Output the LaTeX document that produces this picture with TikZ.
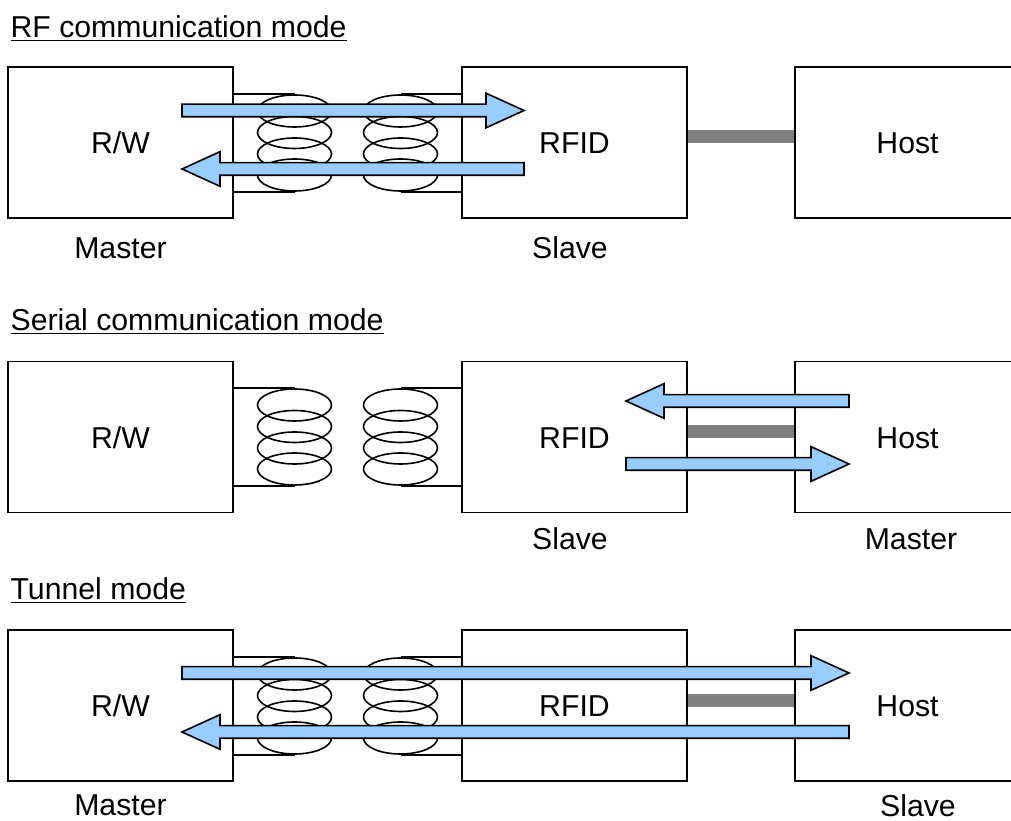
\documentclass[tikz,border=0pt]{standalone}
\usepackage{fontspec}
\setmainfont{Liberation Sans}
\usepackage{xcolor}
\usetikzlibrary{shapes.geometric,shapes.arrows}
\definecolor{arrowblue}{HTML}{99CCFF}
\begin{document}
\begin{tikzpicture}[
		line width=0.026cm,
		font=\fontsize{17.2pt}{20pt}\selectfont,
		unit/.style={draw, minimum width=4.5cm, minimum height=3.02cm, inner sep=0, text height=0.46cm, text depth=0},
		coil/.style={draw, line width=0.032cm, ellipse, minimum width=1.48cm, minimum height=0.64cm, inner sep=0},
		wire/.style={draw, line width=0.032cm},
		bar/.style={draw=gray, line width=0.26cm},
		flowright/.style={draw, line width=0.032cm, fill=arrowblue, single arrow, single arrow head extend=0.22cm, single arrow tip angle=49, inner xsep=0, inner ysep=0.11cm, outer sep=0, anchor=tip},
		flowleft/.style={flowright, shape border rotate=180},
		title/.style={anchor=west, inner sep=0},
		role/.style={inner sep=0}
	]
	\useasboundingbox (0,0) rectangle (20.22,16.42);

	\node[title] (t1) at (0.2,15.85) {\underline{RF communication mode}};
	\node[title] (t2) at (0.2,9.99) {\underline{Serial communication mode}};
	\node[title] (t3) at (0.2,4.61) {\underline{Tunnel mode}};

	\node[unit] (rw1) at (2.41,13.57) {R/W};
	\node[unit] (rfid1) at (11.49,13.57) {RFID};
	\node[unit] (host1) at (18.15,13.57) {Host};
	\node[unit] (rw2) at (2.41,7.68) {R/W};
	\node[unit] (rfid2) at (11.49,7.68) {RFID};
	\node[unit] (host2) at (18.15,7.68) {Host};
	\node[unit] (rw3) at (2.41,2.31) {R/W};
	\node[unit] (rfid3) at (11.49,2.31) {RFID};
	\node[unit] (host3) at (18.15,2.31) {Host};

	\node[coil] (a11) at (5.89,14.2) {};
	\node[coil] (a12) at (5.89,13.77) {};
	\node[coil] (a13) at (5.89,13.34) {};
	\node[coil] (a14) at (5.89,12.92) {};
	\node[coil] (b11) at (8.01,14.2) {};
	\node[coil] (b12) at (8.01,13.77) {};
	\node[coil] (b13) at (8.01,13.34) {};
	\node[coil] (b14) at (8.01,12.92) {};

	\node[coil] (a21) at (5.89,8.32) {};
	\node[coil] (a22) at (5.89,7.89) {};
	\node[coil] (a23) at (5.89,7.46) {};
	\node[coil] (a24) at (5.89,7.04) {};
	\node[coil] (b21) at (8.01,8.32) {};
	\node[coil] (b22) at (8.01,7.89) {};
	\node[coil] (b23) at (8.01,7.46) {};
	\node[coil] (b24) at (8.01,7.04) {};

	\node[coil] (a31) at (5.89,2.94) {};
	\node[coil] (a32) at (5.89,2.51) {};
	\node[coil] (a33) at (5.89,2.08) {};
	\node[coil] (a34) at (5.89,1.66) {};
	\node[coil] (b31) at (8.01,2.94) {};
	\node[coil] (b32) at (8.01,2.51) {};
	\node[coil] (b33) at (8.01,2.08) {};
	\node[coil] (b34) at (8.01,1.66) {};

	\draw[wire] (rw1.east |- a11.north) -- (a11.north);
	\draw[wire] (rw1.east |- a14.south) -- (a14.south);
	\draw[wire] (rfid1.west |- b11.north) -- (b11.north);
	\draw[wire] (rfid1.west |- b14.south) -- (b14.south);
	\draw[wire] (rw2.east |- a21.north) -- (a21.north);
	\draw[wire] (rw2.east |- a24.south) -- (a24.south);
	\draw[wire] (rfid2.west |- b21.north) -- (b21.north);
	\draw[wire] (rfid2.west |- b24.south) -- (b24.south);
	\draw[wire] (rw3.east |- a31.north) -- (a31.north);
	\draw[wire] (rw3.east |- a34.south) -- (a34.south);
	\draw[wire] (rfid3.west |- b31.north) -- (b31.north);
	\draw[wire] (rfid3.west |- b34.south) -- (b34.south);

	\draw[bar] ([yshift=0.11cm]rfid1.east) -- ([yshift=0.11cm]host1.west);
	\draw[bar] ([yshift=0.1cm]rfid2.east) -- ([yshift=0.1cm]host2.west);
	\draw[bar] ([yshift=0.09cm]rfid3.east) -- ([yshift=0.09cm]host3.west);

	\node[flowright, minimum height=6.84cm] (f1) at (10.48,14.21) {};
	\node[flowleft, minimum height=6.84cm] (f2) at (3.64,13.04) {};
	\node[flowleft, minimum height=4.46cm] (f3) at (12.52,8.4) {};
	\node[flowright, minimum height=4.46cm] (f4) at (16.98,7.14) {};
	\node[flowright, minimum height=13.34cm] (f5) at (16.98,2.96) {};
	\node[flowleft, minimum height=13.34cm] (f6) at (3.64,1.78) {};

	\node[role] (m1) at (2.41,11.46) {Master};
	\node[role] (s1) at (11.4,11.46) {Slave};
	\node[role] (s2) at (11.4,5.64) {Slave};
	\node[role] (m2) at (18.22,5.64) {Master};
	\node[role] (m3) at (2.41,0.31) {Master};
	\node[role] (s3) at (18.36,0.31) {Slave};
\end{tikzpicture}
\end{document}
